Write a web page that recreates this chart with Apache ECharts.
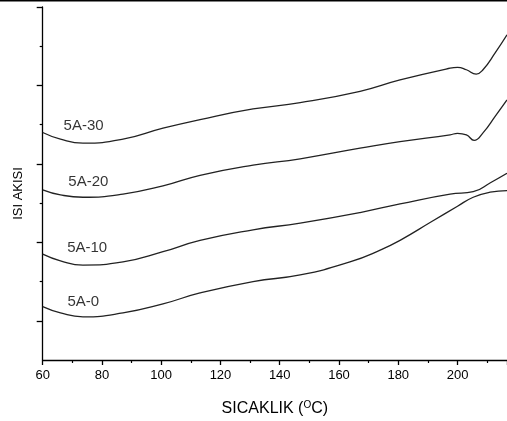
<!DOCTYPE html>
<html lang="en">
<head>
    <meta charset="UTF-8">
    <title>SICAKLIK - ISI AKISI</title>
    <style>
        html, body { margin: 0; padding: 0; background: #fff; }
        #chart { width: 507px; height: 421px; }
    </style>
</head>
<body>
    <div id="chart"></div>
    <script src="https://cdn.jsdelivr.net/npm/echarts@6/dist/echarts.min.js"></script>
    <script>
    // sicaklik (x) / isi akisi (y) okumalari, her egri icin ayri
    var s30x = [60, 66, 73.6, 87.1, 100.6, 113.1, 131, 146.9, 167.1, 180.6, 197.5, 200, 203, 206.3, 208.6, 212.7, 216.7];
    var s30y = [58.0, 56.3, 55.3, 56.3, 59.1, 61.3, 64.0, 65.6, 68.5, 71.4, 74.4, 74.6, 74.0, 72.9, 74.0, 78.3, 82.9];

    var s20x = [60, 66, 73.6, 87.1, 100.6, 113.1, 131, 146.9, 167.1, 180.6, 197.5, 200, 203, 205.6, 208.6, 212.7, 216.7];
    var s20y = [43.4, 42.1, 41.5, 42.3, 44.4, 47.1, 49.7, 51.3, 54.0, 55.7, 57.4, 57.8, 57.4, 56.0, 57.9, 62.1, 66.3];

    var s10x = [60, 66, 73.6, 87.1, 100.6, 113.1, 131, 146.9, 167.1, 180.6, 197.5, 205.3, 211.1, 216.7];
    var s10y = [27.0, 25.3, 24.2, 25.0, 27.6, 30.5, 33.2, 34.9, 37.6, 39.8, 42.3, 42.9, 45.2, 47.6];

    var s0x = [60, 66, 73.6, 87.1, 100.6, 113.1, 131, 146.9, 163.7, 173.9, 180.6, 191.3, 200, 205.3, 211, 216.7];
    var s0y = [13.6, 12.0, 11.0, 12.0, 14.3, 17.1, 20.0, 21.7, 25.0, 28.0, 30.5, 35.3, 39.2, 41.5, 42.8, 43.2];

    // egri etiketleri
    var labelNames = ['5A-30', '5A-20', '5A-10', '5A-0'];
    var labelX = [73.8, 75.4, 75.0, 73.7];
    var labelY = [59.8, 45.5, 28.7, 14.9];

    var majorY = [10, 30, 50, 70, 90];
    var minorY = [20, 40, 60, 80];

    function pairs(xs, ys) {
        return xs.map(function (v, i) { return [v, ys[i]]; });
    }

    var font = 'Liberation Sans, Arial, sans-serif';

    function curve(xs, ys) {
        return {
            type: 'line',
            data: pairs(xs, ys),
            smooth: 0.5,
            symbol: 'none',
            lineStyle: { color: '#222', width: 1.3 },
            silent: true
        };
    }

    var chart = echarts.init(document.getElementById('chart'));
    chart.setOption({
        animation: false,
        grid: { left: 42.7, top: 7, right: 0, bottom: 61, outerBoundsMode: 'none' },
        xAxis: {
            type: 'value',
            min: 60, max: 216.7, interval: 20,
            name: 'SICAKLIK ({sup|O}C)',
            nameLocation: 'middle',
            nameGap: 40,
            nameTextStyle: {
                color: '#000', fontFamily: font, fontSize: 16,
                rich: { sup: { fontSize: 10, fontFamily: font, color: '#000', padding: [0, 0, 8, 0] } }
            },
            axisLine: { lineStyle: { color: '#000', width: 1.3 } },
            axisTick: { length: 5, lineStyle: { color: '#000', width: 1.3 } },
            minorTick: { show: true, splitNumber: 2, length: 3, lineStyle: { color: '#000', width: 1.2 } },
            axisLabel: { color: '#000', fontFamily: font, fontSize: 13, margin: 9,
                showMaxLabel: false },
            splitLine: { show: false }
        },
        yAxis: [{
            type: 'value',
            min: 0, max: 90,
            name: 'ISI AKISI',
            nameLocation: 'middle',
            nameGap: 18,
            nameRotate: 90,
            nameTextStyle: { color: '#000', fontFamily: font, fontSize: 13, padding: [0, 20, 0, 0] },
            axisLine: { lineStyle: { color: '#000', width: 1.3 } },
            axisTick: { customValues: majorY, length: 6, lineStyle: { color: '#000', width: 1.3 } },
            axisLabel: { show: false },
            splitLine: { show: false }
        }, {
            type: 'value',
            min: 0, max: 90,
            position: 'left',
            axisLine: { show: false },
            axisTick: { show: true, customValues: minorY, length: 3, lineStyle: { color: '#000', width: 1.2 } },
            axisLabel: { show: false },
            splitLine: { show: false }
        }],
        graphic: [{
            type: 'rect',
            shape: { x: 0, y: 0, width: 507, height: 1.5 },
            style: { fill: '#000' }
        }],
        series: [
            curve(s30x, s30y),
            curve(s20x, s20y),
            curve(s10x, s10y),
            curve(s0x, s0y),
            {
                type: 'scatter',
                symbolSize: 0,
                silent: true,
                data: labelNames.map(function (n, i) { return { name: n, value: [labelX[i], labelY[i]] }; }),
                label: {
                    show: true, position: 'inside',
                    formatter: function (p) { return p.name; },
                    color: '#000', fontFamily: font, fontSize: 15
                }
            }
        ]
    });
    </script>
</body>
</html>
